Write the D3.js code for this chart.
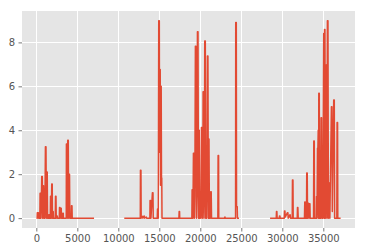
<!DOCTYPE html>
<html>
<head>
<meta charset="utf-8">
<script src="https://cdn.jsdelivr.net/npm/d3@7"></script>
<style>
  html, body { margin: 0; padding: 0; background: #ffffff; }
  svg { display: block; }
  text { font-family: "DejaVu Sans", sans-serif; }
</style>
</head>
<body>
<svg id="chart" width="366" height="252"></svg>
<script>
// ---- data (x, value); separate runs are separate segments ----
const segmentA = [
  [100,0],[120,0.25],[260,0.25],[290,0],[430,0],[460,1.13],[520,1.13],[560,0],
  [600,0.5],[660,1.9],[730,1.9],[770,0],[820,1.47],[880,1.47],[920,0],[980,0.3],
  [1040,0],[1110,3.25],[1180,3.25],[1230,0],[1270,2.1],[1330,2.1],[1370,0],[1500,0],
  [1530,0.15],[1580,0.15],[1610,0],[1700,0],[1730,1.0],[1790,1.0],[1830,0],[1880,1.55],
  [1940,1.55],[1970,0],[2010,0.3],[2060,0.3],[2090,0],[2310,0],[2340,1.0],[2400,1.0],
  [2430,0],[2500,0.1],[2550,0.1],[2580,0],[2800,0],[2830,0.48],[2880,0.48],[2920,0],
  [2990,0.45],[3040,0.45],[3070,0],[3200,0],[3230,0.22],[3290,0.22],[3310,0],[3650,0],
  [3670,3.38],[3740,3.38],[3790,0],[3830,3.55],[3900,3.55],[3940,0],[3990,2.0],[4050,2.0],
  [4090,0],[4260,0],[4290,0.56],[4350,0.56],[4380,0],[6951,0]
];
const segmentB = [
  [10817,0],[12680,0],[12700,2.18],[12760,2.18],[12790,0],[12950,0.08],[13000,0],[13150,0.1],
  [13200,0],[13400,0.05],[13450,0],[13850,0],[13870,0.8],[13930,0.8],[13980,0],[14160,1.16],
  [14230,1.16],[14260,0],[14750,0],[14780,0.42],[14830,0.42],[14880,0],[14930,8.98],[15000,8.98],
  [15030,3.0],[15060,6.77],[15110,6.77],[15150,1.5],[15180,6.0],[15230,6.0],[15268,1.83],[15300,1.83],
  [15330,0],[17390,0],[17420,0.3],[17470,0.3],[17490,0],[18970,0],
  [19000,1.29],[19060,1.29],[19100,0],[19160,2.95],[19230,2.95],[19280,0],[19330,1.0],[19400,7.83],
  [19470,7.83],[19530,0],[19600,1.2],[19650,8.48],[19720,8.48],[19780,0],[19820,4.0],[19870,4.0],
  [19910,0],[19950,1.2],[20010,1.2],[20060,0],[20140,4.13],[20200,4.13],[20250,0],[20300,1.0],
  [20340,5.75],[20400,5.75],[20450,0],[20500,1.2],[20540,8.06],[20610,8.06],[20660,0],[20700,0.83],
  [20760,0],[20800,1.0],[20870,7.38],[20930,7.38],[20980,0],[21010,3.6],[21060,3.6],[21110,0],
  [21150,1.2],[21230,0],[21280,1.2],[21330,1.2],[21370,0],
  [22140,0],[22170,2.85],[22230,2.85],[22250,0],[22950,0],[23000,0.05],[23050,0],[24300,0],
  [24320,8.9],[24390,8.9],[24420,0.53],[24500,0.53],[24530,0],[24634,0]
];
const segmentC = [
  [28600,0],[29260,0],[29290,0.3],[29340,0.3],[29370,0],[29630,0],[29660,0.1],[29710,0.1],
  [29740,0],[30240,0],[30270,0.33],[30320,0.33],[30350,0.05],[30630,0.25],[30680,0.25],[30720,0],
  [30880,0.1],[30920,0.15],[30960,0.15],[31000,0],[31210,0],[31240,1.74],[31300,1.74],[31330,0],
  [31820,0],[31850,0.48],[31900,0.48],[31940,0],[32700,0],[32740,0.73],[32790,0.73],[32830,0],
  [32950,0],[32980,2.05],[33040,2.05],[33080,0],[33140,0.68],[33200,0.68],[33250,0],[33300,0.65],[33370,0.65],
  [33400,0],[33810,0],[33840,3.51],[33900,3.51],[33930,0],[34140,0],[34170,0.98],[34230,0],
  [34290,3.18],[34340,3.18],[34380,4.0],[34420,0],[34450,5.68],[34510,5.68],[34550,0],[34580,2.7],
  [34630,2.7],[34680,0],[34730,4.57],[34790,4.57],[34840,0],[34900,1.2],[34950,0],[35050,8.4],
  [35100,8.4],[35130,0],[35150,8.59],[35200,8.59],[35250,0],[35330,6.97],[35390,6.97],[35440,0],
  [35500,8.98],[35570,8.98],[35620,0],[35700,1.6],[35760,1.6],[35800,0],[35990,5.07],[36050,5.07],
  [36100,0.3],[36270,5.38],[36340,5.38],[36380,0],[36650,0],[36680,4.35],[36740,4.35],[36770,0],
  [37020,0]
];
const segments = [segmentA, segmentB, segmentC];
const xTickValues = [0, 5000, 10000, 15000, 20000, 25000, 30000, 35000];
const yTickValues = [0, 2, 4, 6, 8];

// ---- layout ----
const svg = d3.select("#chart");
const plot = { left: 22, top: 11, right: 355, bottom: 228 };

const allPts = segments.flat();
const xExt = d3.extent(allPts, d => d[0]);
const yExt = [0, d3.max(allPts, d => d[1])];
const xPad = (xExt[1] - xExt[0]) * 0.05;
const yPad = (yExt[1] - yExt[0]) * 0.05;

const x = d3.scaleLinear().domain([xExt[0] - xPad, xExt[1] + xPad]).range([plot.left, plot.right]);
const y = d3.scaleLinear().domain([yExt[0] - yPad, yExt[1] + yPad]).range([plot.bottom, plot.top]);

// background
svg.append("rect")
  .attr("x", plot.left).attr("y", plot.top)
  .attr("width", plot.right - plot.left).attr("height", plot.bottom - plot.top)
  .attr("fill", "#E5E5E5");

// grid
const grid = svg.append("g").attr("stroke", "#ffffff").attr("stroke-width", 1);
grid.selectAll("line.gx").data(xTickValues).enter().append("line")
  .attr("x1", d => Math.round(x(d)) + 0.5).attr("x2", d => Math.round(x(d)) + 0.5)
  .attr("y1", plot.top).attr("y2", plot.bottom);
grid.selectAll("line.gy").data(yTickValues).enter().append("line")
  .attr("y1", d => Math.round(y(d)) + 0.5).attr("y2", d => Math.round(y(d)) + 0.5)
  .attr("x1", plot.left).attr("x2", plot.right);

// axes
const xAxis = d3.axisBottom(x).tickValues(xTickValues).tickSize(3.5).tickPadding(3.5).tickFormat(d3.format("d"));
const yAxis = d3.axisLeft(y).tickValues(yTickValues).tickSize(3.5).tickPadding(3.5).tickFormat(d3.format("d"));

const gx = svg.append("g").attr("transform", `translate(0,${plot.bottom})`).call(xAxis);
const gy = svg.append("g").attr("transform", `translate(${plot.left},0)`).call(yAxis);
[gx, gy].forEach(g => {
  g.select(".domain").remove();
  g.selectAll(".tick line").attr("stroke", "#555555").attr("stroke-width", 0.8);
  g.selectAll(".tick text").attr("fill", "#555555").attr("font-size", 10)
    .attr("font-family", "DejaVu Sans, sans-serif");
});

// line
const line = d3.line().x(d => x(d[0])).y(d => y(d[1]));
svg.append("g").selectAll("path").data(segments).enter().append("path")
  .attr("d", line)
  .attr("fill", "none")
  .attr("stroke", "#E24A33")
  .attr("stroke-width", 1.5)
  .attr("stroke-linejoin", "round")
  .attr("stroke-linecap", "square");
</script>
</body>
</html>
